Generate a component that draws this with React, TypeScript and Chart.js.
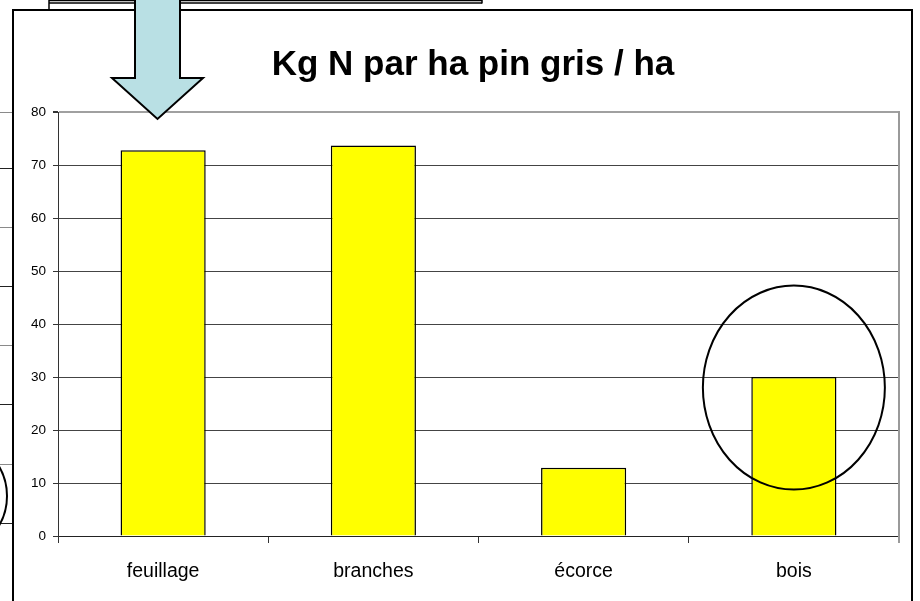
import React, { useEffect, useRef } from 'react';
import { Chart, registerables } from 'chart.js';

Chart.register(...registerables);

const FONT = '"Liberation Sans", Arial, Helvetica, sans-serif';
const TITLE = 'Kg N par ha pin gris / ha';
const categories = ['feuillage', 'branches', 'écorce', 'bois'];
const nitrogenKg = [72.8, 73.7, 12.9, 30.0];
const Y_MIN = 0;
const Y_MAX = 80;
const Y_STEP = 10;
const highlightedCategory = 'bois';
const highlightCenterValue = 28;

const decorations = {
  id: 'decorations',
  afterDraw(chart: any) {
    const ctx = chart.ctx as CanvasRenderingContext2D;
    const a = chart.chartArea;
    const xs = chart.scales.x;
    const ys = chart.scales.y;
    const line = (x1: number, y1: number, x2: number, y2: number) => {
      ctx.beginPath();
      ctx.moveTo(x1, y1);
      ctx.lineTo(x2, y2);
      ctx.stroke();
    };
    ctx.save();

    // right plot border (gray)
    ctx.strokeStyle = '#9a9a9a';
    ctx.lineWidth = 2;
    line(a.right, a.top - 1, a.right, a.bottom + 7);

    // title
    ctx.fillStyle = '#000';
    ctx.font = `bold 35px ${FONT}`;
    ctx.textAlign = 'center';
    ctx.textBaseline = 'alphabetic';
    ctx.fillText(TITLE, 473, 75);

    // highlight ellipse around 'bois'
    const cx = xs.getPixelForValue(categories.indexOf(highlightedCategory));
    const cy = ys.getPixelForValue(highlightCenterValue);
    ctx.strokeStyle = '#000';
    ctx.lineWidth = 2;
    ctx.beginPath();
    ctx.ellipse(cx, cy, 91, 102, 0, 0, Math.PI * 2);
    ctx.stroke();

    // background slide strip on the left (other chart behind)
    const stripYs = [112, 168, 227, 286, 345, 404, 464, 523];
    stripYs.forEach((yy, i) => {
      ctx.strokeStyle = i % 2 === 0 ? '#8a8a8a' : '#222';
      ctx.lineWidth = 1;
      line(0, yy + 0.5, 12, yy + 0.5);
    });
    ctx.save();
    ctx.beginPath();
    ctx.rect(0, 0, 12, 601);
    ctx.clip();
    ctx.strokeStyle = '#000';
    ctx.lineWidth = 2;
    ctx.beginPath();
    ctx.ellipse(-60, 496, 67, 62, 0, 0, Math.PI * 2);
    ctx.stroke();
    ctx.restore();

    // main frame
    ctx.strokeStyle = '#000';
    ctx.lineWidth = 2;
    ctx.strokeRect(13, 10, 899, 640);

    // box partially visible at the top
    ctx.lineWidth = 1.5;
    line(49, 0.5, 482, 0.5);
    line(49, 3, 482, 3);
    line(49, 0, 49, 10);
    line(482, 0, 482, 3.5);

    // arrow
    ctx.beginPath();
    ctx.moveTo(135, -5);
    ctx.lineTo(180, -5);
    ctx.lineTo(180, 78);
    ctx.lineTo(203, 78);
    ctx.lineTo(157.5, 119);
    ctx.lineTo(112, 78);
    ctx.lineTo(135, 78);
    ctx.closePath();
    ctx.fillStyle = '#B9E0E4';
    ctx.fill();
    ctx.strokeStyle = '#000';
    ctx.lineWidth = 2;
    ctx.lineJoin = 'miter';
    ctx.stroke();

    ctx.restore();
  },
};

export default function App() {
  const canvasRef = useRef<HTMLCanvasElement | null>(null);

  useEffect(() => {
    if (!canvasRef.current) return;
    const chart = new Chart(canvasRef.current, {
      type: 'bar',
      data: {
        labels: categories,
        datasets: [
          {
            data: nitrogenKg,
            backgroundColor: '#FFFF00',
            borderColor: '#000',
            borderWidth: 1.5,
            barPercentage: 0.405,
            categoryPercentage: 1,
          },
        ],
      },
      options: {
        responsive: false,
        animation: false,
        devicePixelRatio: 1,
        layout: { padding: { top: 112, right: 21, bottom: 0, left: 0 } },
        plugins: {
          legend: { display: false },
          tooltip: { enabled: false },
          title: { display: false },
        },
        scales: {
          x: {
            grid: {
              display: true,
              offset: true,
              drawOnChartArea: false,
              drawTicks: true,
              tickLength: 7,
              color: '#333',
            },
            border: { display: true, color: '#222', width: 1 },
            ticks: {
              color: '#000',
              padding: 17,
              font: { family: FONT, size: 19.5 },
            },
            afterFit(scale: any) {
              scale.height = 65;
            },
          },
          y: {
            min: Y_MIN,
            max: Y_MAX,
            grid: {
              color: (c: any) => (c.tick && c.tick.value === Y_MAX ? '#a0a0a0' : '#444'),
              lineWidth: (c: any) => (c.tick && c.tick.value === Y_MAX ? 2 : 1),
              tickColor: '#333',
              tickLength: 5,
              drawTicks: true,
            },
            border: { display: true, color: '#333', width: 1 },
            ticks: {
              stepSize: Y_STEP,
              color: '#000',
              padding: 7,
              font: { family: FONT, size: 13.5 },
            },
            afterFit(scale: any) {
              scale.width = 58;
            },
          },
        },
      },
      plugins: [decorations],
    } as any);
    return () => chart.destroy();
  }, []);

  return (
    <div
      style={{
        position: 'fixed',
        left: 0,
        top: 0,
        width: 920,
        height: 601,
        background: '#fff',
        overflow: 'hidden',
      }}
    >
      <canvas ref={canvasRef} width={920} height={601} style={{ display: 'block', width: 920, height: 601 }} />
    </div>
  );
}
